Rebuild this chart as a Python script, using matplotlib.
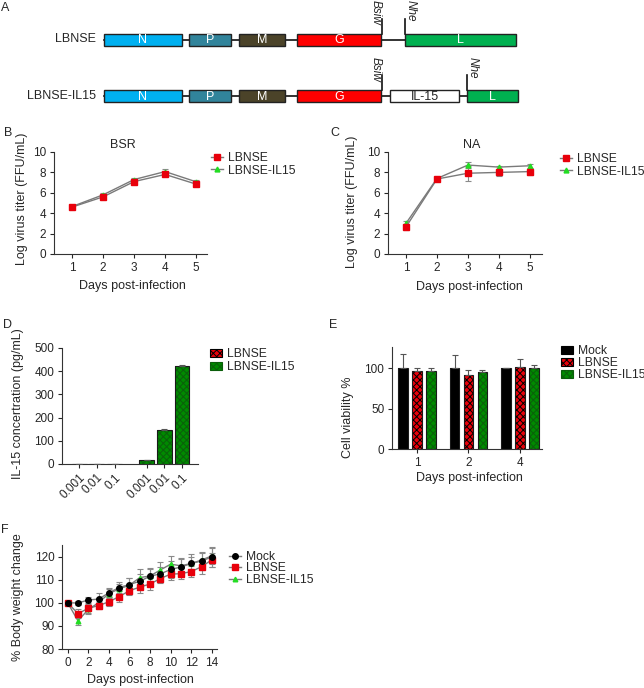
import matplotlib
matplotlib.use('Agg')
import matplotlib.pyplot as plt
from matplotlib.patches import Rectangle, Patch
from matplotlib.lines import Line2D

# ---- data ----
days_growth = [1, 2, 3, 4, 5]
bsr_lbnse = [4.6, 5.6, 7.1, 7.8, 6.85]
bsr_lbnse_err = [0.1, 0.12, 0.15, 0.2, 0.15]
bsr_il15 = [4.65, 5.8, 7.3, 8.08, 7.08]
bsr_il15_err = [0.1, 0.2, 0.2, 0.3, 0.15]

na_lbnse = [2.65, 7.35, 7.92, 8.0, 8.08]
na_lbnse_err = [0.33, 0.15, 0.75, 0.35, 0.3]
na_il15 = [3.0, 7.4, 8.72, 8.52, 8.65]
na_il15_err = [0.2, 0.1, 0.3, 0.15, 0.2]

moi_labels = ['0.001', '0.01', '0.1']
il15_conc_lbnse = [0, 0, 0]
il15_conc_lbnse_err = [0, 0, 0]
il15_conc_il15 = [17, 148, 421]
il15_conc_il15_err = [2, 3, 4]

viab_days = ['1', '2', '4']
viab_mock = [100, 100, 100]
viab_mock_err = [17, 16, 0.5]
viab_lbnse = [96, 92, 101.5]
viab_lbnse_err = [4.5, 6, 9.5]
viab_il15 = [96, 95, 100.5]
viab_il15_err = [3.5, 2, 3]

days_weight = list(range(15))
wt_mock = [100, 99.9, 101.2, 101.6, 104.3, 106.6, 107.9, 109.3, 111.5, 112.5, 114.4, 115.5, 117, 118.1, 119.8]
wt_mock_err = [0.5, 1, 1.5, 2.5, 2, 2.5, 3, 3, 3.5, 3, 3.5, 4, 4, 4, 4.5]
wt_lbnse = [100, 95.3, 97.6, 98.8, 100.4, 102.7, 105.2, 106.8, 108.1, 110.5, 112.4, 112.6, 113.5, 115.6, 118.6]
wt_lbnse_err = [0.5, 2, 2, 1.5, 2, 2.5, 2, 2.5, 2.5, 2, 2.5, 2.5, 2.5, 3, 3]
wt_il15 = [100, 92.2, 97.1, 100, 104, 106, 107.6, 110.9, 111.6, 114.2, 116.7, 116, 117, 118.5, 120.3]
wt_il15_err = [0.5, 2, 2, 2, 2, 2, 3, 3.5, 3, 3.5, 3.5, 3, 3, 3, 3.5]

lbnse_genes = ['N', 'P', 'M', 'G', 'L']
il15_genes = ['N', 'P', 'M', 'G', 'IL-15', 'L']

# ---- style ----
W, H = 644, 688
TXT = '#262626'
plt.rcParams['font.family'] = ['Liberation Sans', 'DejaVu Sans']
plt.rcParams['font.size'] = 9
plt.rcParams['text.color'] = TXT
plt.rcParams['xtick.color'] = TXT
plt.rcParams['ytick.color'] = TXT
plt.rcParams['hatch.linewidth'] = 0.7

RED = '#e8000b'
GREEN = '#008a00'
LGREEN = '#22dd22'
LINE = '#7a7a7a'

fig = plt.figure(figsize=(6.44, 6.88), dpi=100)


def ftext(x, y, s, **kw):
    fig.text(x / W, 1 - y / H, s, **kw)


def place(x0, x1, ytop, ybot):
    ax = fig.add_axes([x0 / W, 1 - ybot / H, (x1 - x0) / W, (ybot - ytop) / H])
    ax.spines[['top', 'right']].set_visible(False)
    ax.spines[['left', 'bottom']].set_color('#333333')
    ax.spines[['left', 'bottom']].set_linewidth(0.8)
    ax.tick_params(direction='out', length=3, width=0.8, pad=2.5, labelsize=8.5)
    return ax


def legend(ax, handles, labels, x, y, spacing):
    ax.legend(handles, labels, loc='upper left', bbox_to_anchor=(x / W, 1 - y / H),
              bbox_transform=fig.transFigure, frameon=False, borderpad=0,
              borderaxespad=0, handlelength=1.0, handletextpad=0.4,
              labelspacing=spacing, fontsize=8.7)


def curve(ax, x, y, e, color, marker, ms):
    ax.errorbar(x, y, yerr=e, color=LINE, lw=1, elinewidth=0.8, capsize=2,
                capthick=0.8, ecolor='#8a8a8a', marker=marker, ms=ms,
                mfc=color, mec=color, zorder=3)


def curve_handle(color, marker, ms):
    return Line2D([], [], color=LINE, lw=1, marker=marker, ms=ms, mfc=color, mec=color)


def bars(ax, x, h, e, width, color, hatch, hatch_color):
    ax.bar(x, h, width, color=color, hatch=hatch, edgecolor=hatch_color, linewidth=0, zorder=2)
    ax.bar(x, h, width, fill=False, edgecolor='#1a1a1a', linewidth=0.8, zorder=3)
    ax.errorbar(x, h, yerr=[[0] * len(e), e], fmt='none', ecolor='#555555',
                elinewidth=0.8, capsize=2, capthick=0.8, zorder=4)


# ---- A: genome schematic ----
ax0 = fig.add_axes([0, 0, 1, 1])
ax0.set_xlim(0, W)
ax0.set_ylim(H, 0)
ax0.axis('off')

gene_colors = {'N': '#00b0f0', 'P': '#31849b', 'M': '#4b4329', 'G': '#ff0000',
               'IL-15': '#ffffff', 'L': '#00b050'}
rows = [
    ('LBNSE', lbnse_genes, 39.5,
     [(104, 182), (189, 231), (239, 285), (297, 381), (405, 516)],
     [('Bsiw', 382, 'left'), ('Nhe', 405, 'right')]),
    ('LBNSE-IL15', il15_genes, 96,
     [(104, 182), (189, 231), (239, 285), (297, 381), (390, 459), (467, 518)],
     [('Bsiw', 382, 'left'), ('Nhe', 467, 'right')]),
]
for name, genes, yc, spans, sites in rows:
    ax0.text(96, yc, name, ha='right', va='center', fontsize=9)
    ax0.plot([spans[0][0], spans[-1][1]], [yc, yc], color='#111111', lw=1.2, zorder=1)
    for g, (a, b) in zip(genes, spans):
        ax0.add_patch(Rectangle((a, yc - 6), b - a, 12, facecolor=gene_colors[g],
                                edgecolor='#222222', lw=1, zorder=2))
        ax0.text((a + b) / 2, yc + 0.5, g, ha='center', va='center', fontsize=9,
                 color=TXT if g == 'IL-15' else 'white', zorder=3)
    for site, xs, side in sites:
        ax0.plot([xs, xs], [yc - 21, yc - 6], color='#111111', lw=1.2, zorder=2)
        tx = xs - 6 if side == 'left' else xs + 6
        ax0.text(tx, yc - 39, site, rotation=270, ha='center', va='top',
                 fontsize=8.5, style='italic')

# panel letters
for letter, x, y in [('A', 5, 8), ('B', 8, 133), ('C', 335, 133), ('D', 7, 325),
                     ('E', 333, 325), ('F', 5, 530)]:
    ftext(x, y, letter, ha='center', va='center', fontsize=9)

# ---- B: BSR growth ----
axB = place(54, 207, 152, 254)
curve(axB, days_growth, bsr_il15, bsr_il15_err, LGREEN, '^', 3.5)
curve(axB, days_growth, bsr_lbnse, bsr_lbnse_err, RED, 's', 4)
axB.set_xlim(0.42, 5.35)
axB.set_ylim(0, 10)
axB.set_xticks(days_growth)
axB.set_yticks(range(0, 11, 2))
ftext(123, 145, 'BSR', ha='center', va='center')
ftext(22, 199, 'Log virus titer (FFU/mL)', rotation=90, ha='center', va='center')
ftext(132, 286, 'Days post-infection', ha='center', va='center')
legend(axB, [curve_handle(RED, 's', 4), curve_handle(LGREEN, '^', 3.5)],
       ['LBNSE', 'LBNSE-IL15'], 211, 152, 0.05)

# ---- C: NA growth ----
axC = place(388, 542, 152, 254)
curve(axC, days_growth, na_il15, na_il15_err, LGREEN, '^', 3.5)
curve(axC, days_growth, na_lbnse, na_lbnse_err, RED, 's', 4)
axC.set_xlim(0.42, 5.39)
axC.set_ylim(0, 10)
axC.set_xticks(days_growth)
axC.set_yticks(range(0, 11, 2))
ftext(472, 145, 'NA', ha='center', va='center')
ftext(352, 202, 'Log virus titer (FFU/mL)', rotation=90, ha='center', va='center')
ftext(469, 287, 'Days post-infection', ha='center', va='center')
legend(axC, [curve_handle(RED, 's', 4), curve_handle(LGREEN, '^', 3.5)],
       ['LBNSE', 'LBNSE-IL15'], 560, 153, 0.05)

# ---- D: IL-15 concentration ----
axD = place(62, 198, 348, 464)
pos_lbnse = [0, 1, 2]
pos_il15 = [3.8, 4.8, 5.8]
bars(axD, pos_lbnse, il15_conc_lbnse, il15_conc_lbnse_err, 0.84, RED, 'xxxxx', 'black')
bars(axD, pos_il15, il15_conc_il15, il15_conc_il15_err, 0.84, GREEN, 'xxxxx', '#0b5e0b')
axD.set_xlim(-0.97, 6.7)
axD.set_ylim(0, 500)
axD.set_yticks(range(0, 501, 100))
axD.set_xticks(pos_lbnse + pos_il15)
axD.set_xticklabels(moi_labels + moi_labels, rotation=45, ha='right', va='top',
                    rotation_mode='anchor')
ftext(18, 404, 'IL-15 concertration (pg/mL)', rotation=90, ha='center', va='center')
legend(axD, [Patch(facecolor=RED, edgecolor='black', hatch='xxxxx', lw=0.8),
             Patch(facecolor=GREEN, edgecolor='#0b5e0b', hatch='xxxxx', lw=0.8)],
       ['LBNSE', 'LBNSE-IL15'], 210, 348, 0.1)

# ---- E: cell viability ----
axE = place(392, 542, 347, 449)
grp = [0, 1, 2]
bw = 0.185
bars(axE, [g - 0.27 for g in grp], viab_mock, viab_mock_err, bw, 'black', None, 'black')
bars(axE, grp, viab_lbnse, viab_lbnse_err, bw, RED, 'xxxxx', 'black')
bars(axE, [g + 0.27 for g in grp], viab_il15, viab_il15_err, bw, GREEN, 'xxxxx', '#0b5e0b')
axE.set_xlim(-0.485, 2.43)
axE.set_ylim(0, 126)
axE.set_yticks([0, 50, 100])
axE.set_xticks(grp)
axE.set_xticklabels(viab_days)
ftext(348, 417, 'Cell viability %', rotation=90, ha='center', va='center')
ftext(469, 478, 'Days post-infection', ha='center', va='center')
legend(axE, [Patch(facecolor='black', edgecolor='black', lw=0.8),
             Patch(facecolor=RED, edgecolor='black', hatch='xxxxx', lw=0.8),
             Patch(facecolor=GREEN, edgecolor='#0b5e0b', hatch='xxxxx', lw=0.8)],
       ['Mock', 'LBNSE', 'LBNSE-IL15'], 561, 345, 0.0)

# ---- F: body weight ----
axF = place(62, 217, 545, 649)
curve(axF, days_weight, wt_il15, wt_il15_err, LGREEN, '^', 3.3)
curve(axF, days_weight, wt_lbnse, wt_lbnse_err, RED, 's', 3.8)
curve(axF, days_weight, wt_mock, wt_mock_err, 'black', 'o', 4)
axF.set_xlim(-0.55, 14.5)
axF.set_ylim(80, 125)
axF.set_xticks(range(0, 15, 2))
axF.set_yticks(range(80, 121, 10))
ftext(18, 597, '% Body weight change', rotation=90, ha='center', va='center')
ftext(140, 680, 'Days post-infection', ha='center', va='center')
legend(axF, [curve_handle('black', 'o', 4), curve_handle(RED, 's', 3.8),
             curve_handle(LGREEN, '^', 3.3)],
       ['Mock', 'LBNSE', 'LBNSE-IL15'], 229, 551, -0.05)

fig.savefig('out.png', dpi=100)
